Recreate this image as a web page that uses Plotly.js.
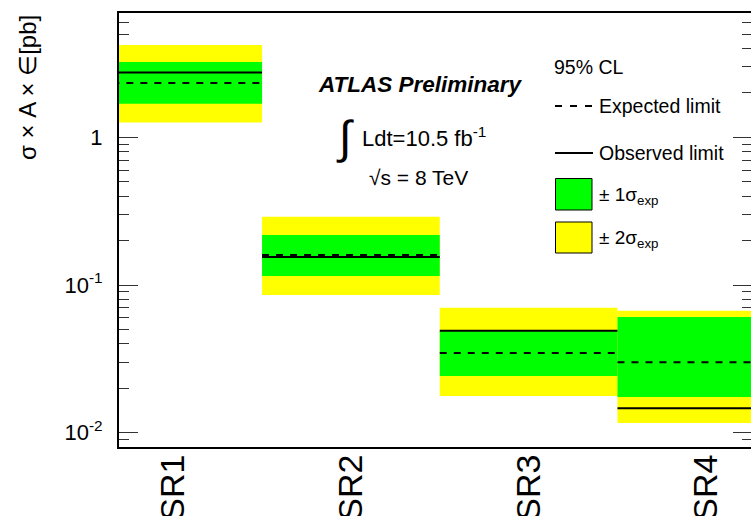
<!DOCTYPE html>
<html>
<head>
<meta charset="utf-8">
<script src="https://cdn.plot.ly/plotly-3.0.1.min.js"></script>
<style>
html, body { margin: 0; padding: 0; overflow: hidden; background: #fff; }
#chart { width: 753px; height: 516px; }
</style>
</head>
<body>
<div id="chart"></div>
<script>
// ---- data ----
const categories = ['SR1', 'SR2', 'SR3', 'SR4'];
const observed   = [2.75, 0.1547, 0.0490, 0.01463];
const expected   = [2.33, 0.1596, 0.0346, 0.0300];
const sigma1Up   = [3.23, 0.218, 0.0488, 0.0607];
const sigma1Down = [1.69, 0.115, 0.0242, 0.01745];
const sigma2Up   = [4.22, 0.290, 0.0702, 0.0670];
const sigma2Down = [1.26, 0.0856, 0.0177, 0.01163];
const yTickVals  = [0.01, 0.1, 1];
const yTickText  = ['10<sup>-2</sup>', '10<sup>-1</sup>', '1'];
const yMinorVals = [0.008, 0.009, 0.02, 0.03, 0.04, 0.05, 0.06, 0.07, 0.08, 0.09,
                    0.2, 0.3, 0.4, 0.5, 0.6, 0.7, 0.8, 0.9, 2, 3, 4, 5, 6];

const FONT = 'Liberation Sans, Arial, Helvetica, sans-serif';
const YELLOW = '#ffff00';
const GREEN = '#00ff00';

// plot-area pixel geometry helpers (for text/legend placement only)
const L = 119, R = 752, T = 13, B = 447;
const px = x => (x - L) / (R - L);
const py = y => (B - y) / (B - T);

const traces = [];
function band(lo, hi, color) {
  categories.forEach((c, i) => {
    traces.push({
      x: [i, i + 1, i + 1, i, i],
      y: [lo[i], lo[i], hi[i], hi[i], lo[i]],
      mode: 'none', fill: 'toself', fillcolor: color,
      hoverinfo: 'skip', showlegend: false
    });
  });
}
band(sigma2Down, sigma2Up, YELLOW);
band(sigma1Down, sigma1Up, GREEN);

function stepLine(vals, dash) {
  const x = [], y = [];
  categories.forEach((c, i) => { x.push(i, i + 1, null); y.push(vals[i], vals[i], null); });
  traces.push({ x, y, mode: 'lines', line: { color: '#000', width: 2, dash },
                hoverinfo: 'skip', showlegend: false });
}
stepLine(expected, '7px,7px');
stepLine(observed, 'solid');

const annotations = [
  { text: 'σ × A × ∈[pb]', x: px(28), y: py(88), textangle: -90, font: { size: 24 } },
  { text: '<b><i>ATLAS Preliminary</i></b>', x: px(420), y: py(85), font: { size: 22.5 } },
  { text: '∫', x: px(345), y: py(137), font: { size: 46 } },
  { text: 'Ldt=10.5 fb<sup>-1</sup>', x: px(360), y: py(137), xanchor: 'left', font: { size: 22 } },
  { text: '√s = 8 TeV', x: px(367), y: py(178), xanchor: 'left', font: { size: 21 } },
  { text: '95% CL', x: px(552), y: py(67), xanchor: 'left', font: { size: 19.5 } },
  { text: 'Expected limit', x: px(597), y: py(106), xanchor: 'left', font: { size: 19.5 } },
  { text: 'Observed limit', x: px(597), y: py(153), xanchor: 'left', font: { size: 19.5 } },
  { text: '± 1σ<sub>exp</sub>', x: px(597), y: py(196), xanchor: 'left', font: { size: 19 } },
  { text: '± 2σ<sub>exp</sub>', x: px(597), y: py(239), xanchor: 'left', font: { size: 19 } }
].map(a => Object.assign({ xref: 'paper', yref: 'paper', showarrow: false,
  xanchor: 'center', yanchor: 'middle' }, a, { font: Object.assign({ family: FONT, color: '#000' }, a.font) }));

const shapes = [
  { type: 'line', x0: px(555), x1: px(593), y0: py(106), y1: py(106), line: { color: '#000', width: 2, dash: '7px,8px' } },
  { type: 'line', x0: px(555), x1: px(593), y0: py(153), y1: py(153), line: { color: '#000', width: 2 } },
  { type: 'rect', x0: px(555.5), x1: px(592), y0: py(178.5), y1: py(210), fillcolor: GREEN, line: { color: '#000', width: 1 } },
  { type: 'rect', x0: px(555.5), x1: px(592), y0: py(222), y1: py(253), fillcolor: YELLOW, line: { color: '#000', width: 1 } }
].map(s => Object.assign({ xref: 'paper', yref: 'paper', layer: 'above' }, s));

const layout = {
  width: 753, height: 516,
  margin: { l: L, r: 753 - R, t: T, b: 516 - B, pad: 0 },
  paper_bgcolor: '#fff', plot_bgcolor: '#fff',
  font: { family: FONT, color: '#000' },
  showlegend: false,
  xaxis: {
    range: [0.195, 3.757], showgrid: false, zeroline: false,
    showline: true, linecolor: '#000', linewidth: 2, mirror: true,
    tickmode: 'array', tickvals: categories.map((c, i) => i + 0.5), ticktext: categories,
    ticks: '', tickangle: -90, tickfont: { size: 34, family: FONT, color: '#000' },
    ticklabelstandoff: -8,
    automargin: false, layer: 'below traces'
  },
  yaxis: {
    type: 'log', range: [-2.0968, 0.8416], showgrid: false, zeroline: false,
    showline: true, linecolor: '#000', linewidth: 2, mirror: 'ticks',
    tickmode: 'array', tickvals: yTickVals, ticktext: yTickText,
    ticks: 'inside', ticklen: 19, tickwidth: 1, tickcolor: '#333',
    tickfont: { size: 22, family: FONT, color: '#000' },
    minor: { tickmode: 'array', tickvals: yMinorVals, ticks: 'inside', ticklen: 10, tickwidth: 1, tickcolor: '#333' },
    ticklabelstandoff: 10,
    automargin: false, layer: 'below traces'
  },
  annotations, shapes
};

Plotly.newPlot('chart', traces, layout, { displayModeBar: false, staticPlot: true });
</script>
</body>
</html>
